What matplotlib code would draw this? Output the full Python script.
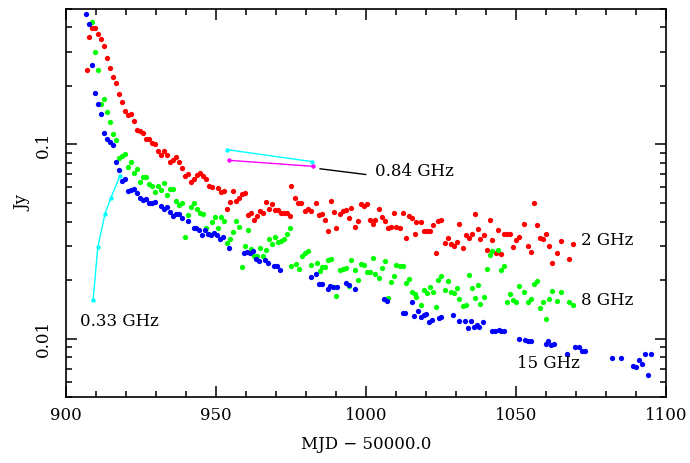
import matplotlib
matplotlib.use("Agg")
import matplotlib.pyplot as plt
from matplotlib.ticker import FixedLocator, NullFormatter

# 2 GHz (red)
mjd_2 = [907.0, 907.7, 908.7, 909.7, 910.7, 911.6, 912.6, 913.6, 914.6, 915.7, 916.7, 917.7, 918.7, 919.7,
         920.7, 921.6, 922.7, 923.7, 924.7, 925.7, 926.7, 927.7, 928.7, 929.7, 930.7, 931.7, 932.7, 933.7,
         934.7, 935.7, 936.7, 937.7, 938.7, 939.7, 940.7, 941.7, 942.7, 943.7, 944.7, 945.7, 946.7, 947.7,
         948.7, 950.7, 951.7, 952.7, 953.7, 954.7, 955.7, 956.7, 957.7, 958.7, 959.7, 960.7, 961.7, 962.7,
         963.7, 964.7, 965.7, 966.7, 967.7, 968.7, 969.7, 970.7, 971.7, 972.7, 973.7, 974.7, 975.1, 976.3,
         977.3, 978.3, 979.7, 980.7, 981.7, 983.3, 984.3, 985.3, 986.3, 987.3, 988.3, 989.3, 990.0, 991.3,
         992.3, 993.3, 994.3, 995.1, 996.3, 997.3, 998.3, 999.3, 1000.3, 1001.3, 1002.3, 1002.9, 1004.3,
         1005.3, 1006.3, 1007.3, 1008.3, 1009.3, 1009.9, 1011.2, 1012.4, 1013.3, 1014.3, 1015.3, 1016.3,
         1016.7, 1018.2, 1019.3, 1020.3, 1021.3, 1022.3, 1023.3, 1024.0, 1025.0, 1026.2, 1027.2, 1028.2,
         1029.2, 1030.2, 1030.9, 1032.2, 1033.2, 1034.2, 1035.2, 1036.2, 1037.2, 1038.0, 1039.2, 1040.2,
         1041.2, 1042.0, 1043.2, 1044.0, 1044.9, 1046.1, 1047.1, 1048.1, 1049.1, 1050.1, 1051.1, 1052.8,
         1054.0, 1055.0, 1056.0, 1056.9, 1058.0, 1058.9, 1060.0, 1061.0, 1062.0, 1063.6, 1065.0, 1067.8, 1069.0]
flux_2 = [0.242, 0.356, 0.395, 0.395, 0.37, 0.347, 0.32, 0.278, 0.247, 0.223, 0.208, 0.182, 0.165, 0.149,
          0.141, 0.143, 0.132, 0.118, 0.117, 0.114, 0.106, 0.107, 0.102, 0.100, 0.092, 0.088, 0.092, 0.088,
          0.0815, 0.0827, 0.086, 0.081, 0.0755, 0.0685, 0.0705, 0.0636, 0.0664, 0.0697, 0.0713, 0.0689, 0.0659, 0.0613,
          0.0604, 0.0596, 0.0567, 0.0578, 0.0463, 0.0504, 0.0573, 0.0509, 0.053, 0.0555, 0.0563, 0.0434, 0.0444, 0.0407,
          0.0425, 0.0452, 0.0444, 0.0506, 0.0467, 0.0493, 0.0457, 0.0457, 0.0441, 0.0441, 0.0441, 0.0429, 0.0608, 0.053,
          0.0497, 0.0497, 0.0452, 0.0463, 0.0452, 0.0497, 0.043, 0.0436, 0.0406, 0.0358, 0.0509, 0.0446, 0.0372, 0.0438,
          0.0454, 0.046, 0.0416, 0.0471, 0.0373, 0.0402, 0.0494, 0.048, 0.0491, 0.0409, 0.0387, 0.041, 0.0466,
          0.0423, 0.0401, 0.0369, 0.0377, 0.0443, 0.0373, 0.037, 0.0443, 0.033, 0.0429, 0.0416, 0.0344,
          0.0397, 0.0399, 0.0359, 0.0359, 0.0359, 0.0384, 0.0275, 0.0401, 0.041, 0.0312, 0.0331, 0.0305,
          0.0301, 0.0315, 0.0387, 0.0294, 0.034, 0.0331, 0.0347, 0.0436, 0.0366, 0.0327, 0.034, 0.0286,
          0.0406, 0.0321, 0.0277, 0.0362, 0.0274, 0.0347, 0.0344, 0.0344, 0.0295, 0.0323, 0.0334, 0.0388,
          0.0300, 0.0278, 0.0499, 0.0385, 0.0331, 0.0325, 0.0344, 0.0300, 0.0244, 0.0277, 0.0318, 0.0258, 0.0305]

# 8 GHz (green)
mjd_8 = [908.6, 909.7, 910.6, 911.7, 912.6, 913.6, 914.6, 915.7, 916.6, 917.7, 918.7, 919.7, 920.7, 921.7,
         922.7, 923.7, 924.7, 925.7, 926.7, 927.7, 928.7, 929.7, 930.7, 931.7, 932.7, 933.7, 934.7, 935.7,
         936.7, 937.7, 938.7, 939.7, 940.7, 941.7, 942.7, 943.7, 944.7, 945.7, 946.7, 947.7, 948.7, 949.7,
         950.7, 951.7, 952.7, 953.7, 954.7, 955.7, 956.7, 957.7, 958.7, 959.7, 960.7, 961.7, 962.7, 963.7,
         964.7, 965.7, 966.7, 967.7, 968.7, 969.7, 970.7, 971.7, 972.7, 973.7, 974.7, 975.1, 976.7, 977.7,
         978.7, 979.7, 980.7, 981.7, 983.7, 984.7, 985.3, 986.3, 987.3, 988.3, 989.3, 990.0, 991.3, 992.3,
         993.3, 994.3, 995.1, 996.3, 997.3, 998.3, 999.3, 1000.3, 1001.3, 1002.3, 1002.9, 1004.3, 1005.3,
         1006.3, 1007.3, 1008.3, 1009.3, 1009.9, 1011.2, 1012.2, 1013.3, 1014.3, 1015.3, 1016.3, 1016.7,
         1018.2, 1019.3, 1020.3, 1021.3, 1022.3, 1023.3, 1024.0, 1025.0, 1026.2, 1027.2, 1028.2, 1029.2,
         1030.2, 1030.9, 1032.2, 1033.2, 1034.2, 1035.2, 1036.2, 1037.2, 1038.0, 1039.2, 1040.2, 1041.2,
         1042.0, 1044.0, 1044.9, 1046.1, 1047.1, 1048.1, 1049.1, 1050.1, 1051.1, 1052.8, 1054.0, 1055.0,
         1056.0, 1056.9, 1058.0, 1058.9, 1060.0, 1061.0, 1062.0, 1063.6, 1065.0, 1067.8, 1069.0]
flux_8 = [0.425, 0.30, 0.242, 0.162, 0.171, 0.147, 0.131, 0.113, 0.105, 0.0846, 0.087, 0.0894, 0.0766, 0.081,
          0.0708, 0.0742, 0.0643, 0.0677, 0.0675, 0.0628, 0.0613, 0.0569, 0.0608, 0.0585, 0.063, 0.0547, 0.0592, 0.0592,
          0.0513, 0.0487, 0.0499, 0.0335, 0.0432, 0.0476, 0.0501, 0.0466, 0.0444, 0.0438, 0.0372, 0.0345, 0.0396, 0.0423,
          0.0370, 0.0423, 0.0404, 0.0312, 0.0325, 0.0355, 0.0402, 0.0376, 0.0234, 0.030, 0.0361, 0.029, 0.0265, 0.0266,
          0.0291, 0.0266, 0.0286, 0.0326, 0.0305, 0.0333, 0.0313, 0.0318, 0.0325, 0.0345, 0.037, 0.0237, 0.0243, 0.0227,
          0.0265, 0.0275, 0.0283, 0.0239, 0.0245, 0.0223, 0.0234, 0.0234, 0.0254, 0.0258, 0.0184, 0.0165, 0.0225, 0.0229,
          0.023, 0.0186, 0.0253, 0.0226, 0.0199, 0.0242, 0.0239, 0.0221, 0.022, 0.0261, 0.0214, 0.0204, 0.023,
          0.0252, 0.0162, 0.0196, 0.0211, 0.0239, 0.0235, 0.0235, 0.0194, 0.0202, 0.0174, 0.0169, 0.0163,
          0.0149, 0.0178, 0.0172, 0.0184, 0.0174, 0.0145, 0.0200, 0.0211, 0.0177, 0.0198, 0.0174, 0.0171,
          0.0183, 0.016, 0.0147, 0.0149, 0.0213, 0.0183, 0.0161, 0.0188, 0.015, 0.0163, 0.0229, 0.0269,
          0.0282, 0.0285, 0.0226, 0.0236, 0.0155, 0.0169, 0.0157, 0.0155, 0.0186, 0.0173, 0.0155, 0.0159,
          0.0191, 0.0197, 0.0143, 0.0154, 0.0126, 0.016, 0.0175, 0.0156, 0.0174, 0.0154, 0.0148]

# 15 GHz (blue)
mjd_15 = [906.7, 907.7, 908.7, 909.7, 910.7, 911.6, 912.6, 913.6, 914.6, 915.6, 916.6, 917.6, 918.6, 919.6,
          920.6, 921.6, 922.6, 923.6, 924.6, 925.6, 926.6, 927.6, 928.6, 929.6, 931.6, 932.6, 933.6, 934.6,
          935.6, 936.6, 937.6, 938.6, 940.7, 942.7, 943.3, 944.3, 945.3, 946.3, 947.3, 948.3, 949.3, 950.3,
          951.3, 952.3, 954.3, 959.3, 960.3, 961.3, 962.3, 963.3, 964.3, 966.3, 967.3, 969.3, 970.3, 971.3,
          981.6, 983.3, 984.3, 985.3, 987.3, 988.0, 989.1, 990.3, 993.2, 994.3, 996.2, 1006.1, 1007.1,
          1012.2, 1013.1, 1015.2, 1016.1, 1017.2, 1018.2, 1019.2, 1020.0, 1021.1, 1022.1, 1024.4, 1025.1,
          1028.9, 1031.0, 1033.0, 1034.1, 1034.9, 1036.0, 1036.9, 1037.8, 1038.9, 1042.0, 1042.9, 1044.2,
          1045.1, 1046.0, 1050.9, 1053.0, 1054.1, 1055.1, 1059.9, 1060.8, 1061.7, 1062.6, 1066.9, 1069.8,
          1070.9, 1072.0, 1072.9, 1081.9, 1085.0, 1088.9, 1089.9, 1090.9, 1091.9, 1092.9, 1093.9, 1094.9]
flux_15 = [0.469, 0.414, 0.257, 0.183, 0.162, 0.143, 0.114, 0.106, 0.103, 0.0988, 0.0814, 0.074, 0.0651, 0.0659,
           0.0576, 0.0583, 0.0592, 0.056, 0.0527, 0.0519, 0.0525, 0.0501, 0.0497, 0.0505, 0.0483, 0.0462, 0.0474, 0.0448,
           0.0427, 0.0439, 0.0438, 0.0415, 0.0404, 0.037, 0.037, 0.0362, 0.0341, 0.0362, 0.0345, 0.0341, 0.0349, 0.0341,
           0.0325, 0.0333, 0.0291, 0.0277, 0.028, 0.0277, 0.0281, 0.0256, 0.0251, 0.0253, 0.0246, 0.0236, 0.0236, 0.0226,
           0.0208, 0.0216, 0.0191, 0.0191, 0.0179, 0.0186, 0.0184, 0.0185, 0.0193, 0.0188, 0.0179, 0.016, 0.0156,
           0.0135, 0.0136, 0.0155, 0.013, 0.0138, 0.0129, 0.0132, 0.0134, 0.0122, 0.0125, 0.0128, 0.0129,
           0.0132, 0.0123, 0.0123, 0.0113, 0.0123, 0.0115, 0.0117, 0.0115, 0.0122, 0.0109, 0.011, 0.0111,
           0.011, 0.011, 0.0100, 0.0098, 0.0097, 0.0097, 0.0094, 0.0097, 0.0093, 0.0094, 0.0083, 0.0091,
           0.009, 0.0086, 0.0086, 0.0079, 0.0079, 0.0072, 0.0071, 0.0078, 0.0074, 0.0083, 0.0065, 0.0083]

# 0.33 GHz (cyan, joined)
mjd_033 = [909.0, 910.6, 913.0, 915.0, 918.0]
flux_033 = [0.0157, 0.0296, 0.044, 0.0532, 0.0688]

# 0.84 GHz (cyan and magenta pairs)
mjd_084a = [953.6, 982.1]
flux_084a = [0.0939, 0.0814]
mjd_084b = [954.4, 982.4]
flux_084b = [0.0827, 0.077]

FONT = "DejaVu Serif"
plt.rcParams['font.family'] = [FONT]

fig = plt.figure(figsize=(6.9, 4.63), dpi=100)
ax = fig.add_axes([0.0957, 0.1425, 0.8695, 0.8391])

ms = 3.8
ax.plot(mjd_2, flux_2, 'o', color='#ff0000', ms=ms, mew=0)
ax.plot(mjd_8, flux_8, 'o', color='#00ff00', ms=ms, mew=0)
ax.plot(mjd_15, flux_15, 'o', color='#0000ff', ms=ms, mew=0)
ax.plot(mjd_033, flux_033, '-o', color='#00ffff', ms=3.2, mew=0, lw=1)
ax.plot(mjd_084a, flux_084a, '-o', color='#00ffff', ms=3.2, mew=0, lw=1)
ax.plot(mjd_084b, flux_084b, '-o', color='#ff00ff', ms=3.2, mew=0, lw=1)

# annotation line for 0.84 GHz
ax.plot([984.7, 999.9], [0.0748, 0.0699], color='black', lw=1)

ax.set_yscale('log')
ax.set_xlim(900, 1100)
ax.set_ylim(0.005, 0.5)

ax.set_xticks([900, 950, 1000, 1050, 1100])
ax.set_xticklabels(['900', '950', '1000', '1050', '1100'])
ax.xaxis.set_minor_locator(FixedLocator([x for x in range(900, 1101, 10) if x % 50]))
ax.yaxis.set_major_locator(FixedLocator([0.01, 0.1]))
ax.set_yticklabels(['0.01', '0.1'])
minors = [0.005, 0.006, 0.007, 0.008, 0.009, 0.02, 0.03, 0.04, 0.05, 0.06, 0.07, 0.08, 0.09,
          0.2, 0.3, 0.4, 0.5]
ax.yaxis.set_minor_locator(FixedLocator(minors))
ax.yaxis.set_minor_formatter(NullFormatter())

ax.tick_params(which='both', direction='in', top=True, right=True, width=1.1, colors='black')
ax.tick_params(which='major', length=8)
ax.tick_params(which='minor', length=4)
ax.tick_params(axis='x', which='major', pad=7, labelsize=12)
ax.tick_params(axis='y', which='major', pad=10, labelsize=12, labelrotation=90)
for lab in ax.get_yticklabels():
    lab.set_va('center')
for s in ax.spines.values():
    s.set_linewidth(1.2)

ax.set_xlabel('MJD \u2212 50000.0', fontsize=12, labelpad=9)
ax.set_ylabel('Jy', fontsize=12, labelpad=3)

ax.text(904.7, 0.0122, '0.33 GHz', fontsize=12, va='center', ha='left')
ax.text(1003.0, 0.0725, '0.84 GHz', fontsize=12, va='center', ha='left')
ax.text(1071.7, 0.0318, '2 GHz', fontsize=12, va='center', ha='left')
ax.text(1071.7, 0.0157, '8 GHz', fontsize=12, va='center', ha='left')
ax.text(1050.3, 0.0074, '15 GHz', fontsize=12, va='center', ha='left')

fig.savefig('out.png', dpi=100)
